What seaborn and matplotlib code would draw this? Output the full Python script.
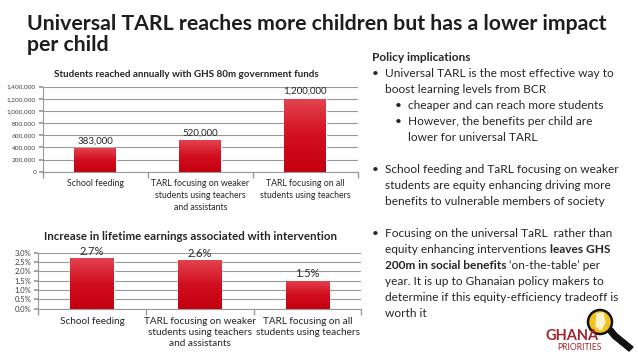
import matplotlib
matplotlib.use("Agg")
import numpy as np
import matplotlib.pyplot as plt
import seaborn as sns
from matplotlib.ticker import FuncFormatter, FixedLocator
from matplotlib.patches import Circle, Polygon
from matplotlib.transforms import IdentityTransform
from matplotlib.colors import LinearSegmentedColormap

categories = ["School feeding",
              "TARL focusing on weaker\nstudents using teachers\nand assistants",
              "TARL focusing on all\nstudents using teachers"]
students = [383000, 520000, 1200000]
earnings = [2.7, 2.6, 1.5]
student_labels = ["383,000", "520,000", "1,200,000"]
earning_labels = ["2.7%", "2.6%", "1.5%"]

sns.set_theme(style="white")
plt.rcParams['font.family'] = ['Lato', 'DejaVu Sans']

RED = "#d0121f"
GRID = "#999999"
TXT = "#262626"
grad = LinearSegmentedColormap.from_list("redgrad", ["#c4000f", "#d20f1f", "#e2424f"])

W, H = 638, 359
fig = plt.figure(figsize=(6.38, 3.59), dpi=100)


def style_axis(ax, lab_size, tick_size, pad, ls):
    ax.set_xlim(-0.5, 2.5)
    ax.grid(axis='y', color=GRID, linewidth=0.8)
    ax.set_axisbelow(True)
    for s in ['top', 'right']:
        ax.spines[s].set_visible(False)
    for s in ['left', 'bottom']:
        ax.spines[s].set_color(GRID)
        ax.spines[s].set_linewidth(0.8)
    ax.set_xlabel("")
    ax.set_ylabel("")
    ax.xaxis.set_minor_locator(FixedLocator([-0.5, 0.5, 1.5, 2.5]))
    ax.tick_params(axis='x', which='major', length=0, labelsize=lab_size, colors=TXT, pad=pad)
    ax.tick_params(axis='x', which='minor', length=4, color=GRID, bottom=True, direction='out')
    ax.tick_params(axis='y', length=3, color=GRID, labelsize=tick_size, colors="#404040", left=True, pad=2)
    for lab in ax.get_xticklabels():
        lab.set_linespacing(ls)


def shade(ax):
    # vertical gradient inside each bar
    g = np.linspace(0, 1, 100).reshape(-1, 1)
    for p in ax.patches:
        x0, y0 = p.get_x(), p.get_y()
        im = ax.imshow(g, cmap=grad, aspect='auto', origin='lower',
                       extent=(x0, x0 + p.get_width(), y0, y0 + p.get_height()), zorder=2)
        im.set_clip_path(p)


# top chart
ax1 = fig.add_axes([0.0674, 0.5217, 0.493, 0.2368])
sns.barplot(x=categories, y=students, color=RED, saturation=1, width=0.4, ax=ax1)
ax1.set_ylim(0, 1400000)
ax1.set_yticks(range(0, 1400001, 200000))
ax1.yaxis.set_major_formatter(FuncFormatter(lambda v, p: f"{int(v):,}"))
style_axis(ax1, 6.3, 4.6, 5, 1.45)
shade(ax1)
ax1.set_xlim(-0.5, 2.5)
ax1.set_ylim(0, 1400000)
ax1.bar_label(ax1.containers[0], labels=student_labels, padding=2, fontsize=7, color=TXT)
fig.text(186 / W, 1 - 77 / H, "Students reached annually with GHS 80m government funds",
         fontsize=7.1, fontweight='bold', color=TXT, ha='center', va='baseline')

# bottom chart
ax2 = fig.add_axes([0.0596, 0.1401, 0.507, 0.156])
sns.barplot(x=categories, y=earnings, color=RED, saturation=1, width=0.4, ax=ax2)
ax2.set_ylim(0, 3.0)
ax2.set_yticks([0, 0.5, 1.0, 1.5, 2.0, 2.5, 3.0])
ax2.yaxis.set_major_formatter(FuncFormatter(lambda v, p: f"{v:.1f}%"))
style_axis(ax2, 7.2, 5.5, 6, 1.3)
shade(ax2)
ax2.set_xlim(-0.5, 2.5)
ax2.set_ylim(0, 3.0)
ax2.bar_label(ax2.containers[0], labels=earning_labels, padding=1, fontsize=8, color=TXT)
fig.text(190 / W, 1 - 240 / H, "Increase in lifetime earnings associated with intervention",
         fontsize=8.3, fontweight='bold', color=TXT, ha='center', va='baseline')

# heading
fig.text(27 / W, 1 - 30 / H, "Universal TARL reaches more children but has a lower impact",
         fontsize=15.3, fontweight='bold', color="#1e1e1e", va='baseline')
fig.text(27 / W, 1 - 51 / H, "per child",
         fontsize=15.3, fontweight='bold', color="#1e1e1e", va='baseline')


# policy text
def put(x, y, s, **kw):
    return fig.text(x / W, 1 - y / H, s, va='baseline', fontsize=8.6, color=TXT, **kw)


put(372, 61, "Policy implications", fontweight='bold')
lines = [
    (372, 385, 77, "Universal TARL is the most effective way to", True),
    (372, 385, 93, "boost learning levels from BCR", False),
    (395, 408, 109, "cheaper and can reach more students", True),
    (395, 408, 125, "However, the benefits per child are", True),
    (395, 408, 141, "lower for universal TARL", False),
    (372, 385, 173, "School feeding and TaRL focusing on weaker", True),
    (372, 385, 189, "students are equity enhancing driving more", False),
    (372, 385, 205, "benefits to vulnerable members of society", False),
    (372, 385, 237, "Focusing on the universal TaRL  rather than", True),
]
for bx, tx, y, s, bullet in lines:
    if bullet:
        put(bx, y, "\u2022")
    put(tx, y, s)

fig.canvas.draw()
r = fig.canvas.get_renderer()
t = put(385, 253, "equity enhancing interventions ")
x1 = t.get_window_extent(r).x1
fig.text(x1 / fig.bbox.width, 1 - 253 / H, "leaves GHS", va='baseline', fontsize=8.6,
         color=TXT, fontweight='bold')
t = put(385, 269, "200m in social benefits ", fontweight='bold')
x1 = t.get_window_extent(r).x1
fig.text(x1 / fig.bbox.width, 1 - 269 / H, "\u2018on-the-table\u2019 per", va='baseline',
         fontsize=8.6, color=TXT)
put(385, 285, "year. It is up to Ghanaian policy makers to")
put(385, 301, "determine if this equity-efficiency tradeoff is")
put(385, 317, "worth it")

# logo
fig.text(545 / W, 1 - 340 / H, "GHANA", fontsize=10.5, fontweight='bold', color="#a3262f", va='baseline')
fig.text(557 / W, 1 - 350 / H, "PRIORITIES", fontsize=6.2, color="#a3262f", va='baseline')
fig.patches.append(Polygon([(612, H - 328), (617, H - 334), (633, H - 347), (629, H - 351), (613, H - 338), (608, H - 332)],
                           closed=True, transform=IdentityTransform(), color="#111111"))
fig.patches.append(Circle((600, H - 322), 12, transform=IdentityTransform(),
                          facecolor="#f3c21a", edgecolor="#111111", linewidth=1.8))
fig.patches.append(Polygon([(597, H - 314), (603, H - 313), (605, H - 322), (601, H - 330), (596, H - 326)],
                           closed=True, transform=IdentityTransform(), color="#fbf3d0"))

fig.savefig("out.png", dpi=100)
